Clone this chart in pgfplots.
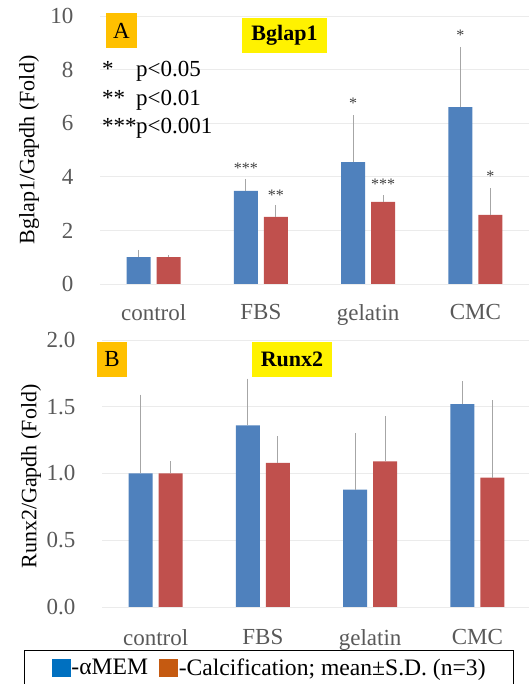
\documentclass[border=0pt]{standalone}
\usepackage{fontspec}
\setmainfont{Liberation Serif}
\usepackage{pgfplots}
\pgfplotsset{compat=1.18}
\definecolor{cblue}{HTML}{4F81BD}
\definecolor{cred}{HTML}{C0504D}
\definecolor{lblue}{HTML}{0070C0}
\definecolor{lorange}{HTML}{C55A11}
\definecolor{tickgray}{HTML}{595959}
\definecolor{gridgray}{HTML}{EBEBEB}
\definecolor{errgray}{HTML}{A6A6A6}
\definecolor{boxorange}{HTML}{FFC000}
\definecolor{stargray}{HTML}{404040}
\pgfplotsset{
 common/.style={
  scale only axis, width=429pt,
  xmin=-0.5, xmax=3.5,
  ybar=6pt, bar width=24pt,
  xtick={0,1,2,3}, xticklabels={control,FBS,gelatin,CMC},
  major tick length=0pt,
  axis line style={draw=none},
  ymajorgrids, grid style={gridgray, line width=0.8pt},
  tick label style={font=\fontsize{23}{26}\selectfont, text=tickgray},
  /pgf/number format/assume math mode=true,
  yticklabel style={xshift=-23pt},
  every axis y label/.style={at={(rel axis cs:0,0.5)}, xshift=-71pt, rotate=90, anchor=center, font=\fontsize{22}{26}\selectfont},
  error bars/y dir=plus, error bars/y explicit, error bars/error mark=none,
  error bars/error bar style={errgray, line width=0.8pt},
 }
}
\begin{document}
\begin{tikzpicture}
\useasboundingbox (0,0) rectangle (529pt,684pt);
% ---------- Panel A ----------
\begin{axis}[common, at={(100pt,400pt)}, anchor=south west, height=268pt,
  ymin=0, ymax=10, ytick={0,2,4,6,8,10},
  xticklabel style={yshift=-17pt},
  ylabel={Bglap1/Gapdh (Fold)}]
\addplot[fill=cblue, draw=none] coordinates {(0,1.0) +- (0,0.27) (1,3.47) +- (0,0.45) (2,4.55) +- (0,1.75) (3,6.6) +- (0,2.25)};
\addplot[fill=cred, draw=none] coordinates {(0,1.0) +- (0,0.08) (1,2.5) +- (0,0.45) (2,3.06) +- (0,0.25) (3,2.58) +- (0,1.0)};
\begin{scope}[every node/.style={font=\fontsize{16}{16}\selectfont, text=stargray, anchor=base}]
\node[xshift=-15pt] at (axis cs:1,4.14) {***};
\node[xshift=15pt] at (axis cs:1,3.13) {**};
\node[xshift=-15pt] at (axis cs:2,6.53) {*};
\node[xshift=15pt] at (axis cs:2,3.51) {***};
\node[xshift=-15pt] at (axis cs:3,9.10) {*};
\node[xshift=15pt] at (axis cs:3,3.81) {*};
\end{scope}
\end{axis}
% ---------- Panel B ----------
\begin{axis}[common, at={(102pt,77pt)}, anchor=south west, height=267pt,
  ymin=0, ymax=2, ytick={0,0.5,1,1.5,2},
  yticklabel style={/pgf/number format/.cd, fixed, fixed zerofill, precision=1},
  xticklabel style={yshift=-19pt},
  every axis y label/.append style={xshift=-3pt},
  ylabel={Runx2/Gapdh (Fold)},
  legend style={at={(rel axis cs:0.3895,-0.161)}, anchor=north, draw=black, line width=0.8pt,
    inner xsep=27pt, inner ysep=6pt, font=\fontsize{23.6}{26}\selectfont, text=black,
    legend columns=2, /tikz/every even column/.append style={column sep=10pt},
    nodes={inner xsep=1pt}},
  legend cell align=left]
\addlegendimage{legend image code/.code={\fill[lblue] (0pt,-8.5pt) rectangle (18pt,8.5pt);}}
\addlegendentry{-αMEM}
\addlegendimage{legend image code/.code={\fill[lorange] (0pt,-8.5pt) rectangle (18pt,8.5pt);}}
\addlegendentry{-Calcification; mean±S.D. (n=3)}
\addplot[fill=cblue, draw=none] coordinates {(0,1.0) +- (0,0.59) (1,1.36) +- (0,0.35) (2,0.88) +- (0,0.42) (3,1.52) +- (0,0.17)};
\addplot[fill=cred, draw=none] coordinates {(0,1.0) +- (0,0.09) (1,1.08) +- (0,0.20) (2,1.09) +- (0,0.34) (3,0.97) +- (0,0.58)};
\end{axis}
% ---------- labels ----------
\node[fill=boxorange, minimum width=31pt, minimum height=35pt, inner sep=0pt, font=\fontsize{23}{26}\selectfont] at (121.5pt,653.5pt) {A};
\node[fill=yellow, minimum width=85pt, minimum height=35pt, inner sep=0pt, font=\bfseries\fontsize{22}{26}\selectfont] at (284.5pt,648.5pt) {Bglap1};
\node[fill=boxorange, minimum width=30pt, minimum height=35pt, inner sep=0pt, font=\fontsize{23}{26}\selectfont] at (112pt,324.5pt) {B};
\node[fill=yellow, minimum width=80pt, minimum height=35pt, inner sep=0pt, font=\bfseries\fontsize{22}{26}\selectfont] at (292pt,324.5pt) {Runx2};
\begin{scope}[every node/.style={font=\fontsize{23}{26}\selectfont, anchor=base west, inner sep=0pt}]
\node at (102pt,607pt) {*};
\node at (136pt,607pt) {p<0.05};
\node at (102pt,578pt) {**};
\node at (136pt,578pt) {p<0.01};
\node at (102pt,550pt) {***};
\node at (136pt,550pt) {p<0.001};
\end{scope}
\end{tikzpicture}
\end{document}
